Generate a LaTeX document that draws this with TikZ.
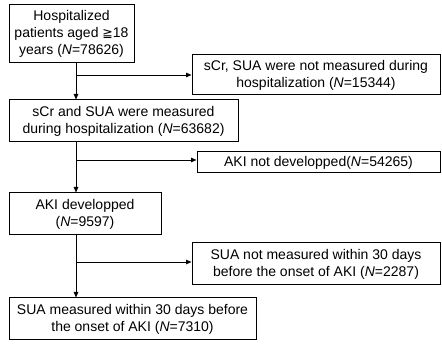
\documentclass[tikz,border=0pt]{standalone}
\usepackage{fontspec}
\setmainfont{Liberation Sans}
\newfontfamily\symfont{DejaVu Sans}
\usetikzlibrary{arrows.meta}
\tikzset{
  box/.style={draw=black, line width=1pt, fill=white, align=center, inner sep=0pt,
    font=\fontsize{14}{17}\selectfont},
  arr/.style={draw=black, line width=0.9pt, -{Triangle[length=5.5pt,width=4.5pt]}},
  ln/.style={draw=black, line width=0.9pt}
}
\begin{document}
\begin{tikzpicture}[x=1pt,y=-1pt]
\useasboundingbox (0,0) rectangle (442,344);
\node[box, minimum width=125pt, minimum height=58pt] (b1) at (71.5,34)
  {Hospitalized\\patients aged {\symfont\fontsize{12.5}{14}\selectfont ≧}18\\years (\textit{N}=78626)};
\node[box, minimum width=229pt, minimum height=42pt] (b2) at (123.5,121)
  {sCr and SUA were measured\\during hospitalization (\textit{N}=63682)};
\node[box, minimum width=248pt, minimum height=40pt] (b3) at (316,75)
  {sCr, SUA were not measured during\\hospitalization (\textit{N}=15344)};
\node[box, minimum width=152pt, minimum height=42pt] (b4) at (85,214)
  {AKI developped\\(\textit{N}=9597)};
\node[box, minimum width=243pt, minimum height=21pt] (b5) at (318.5,162.5)
  {AKI not developped(\textit{N}=54265)};
\node[box, minimum width=248pt, minimum height=42pt] (b6) at (316,264)
  {SUA not measured within 30 days\\before the onset of AKI (\textit{N}=2287)};
\node[box, minimum width=247pt, minimum height=42pt] (b7) at (132.5,319)
  {SUA measured within 30 days before\\the onset of AKI (\textit{N}=7310)};
\coordinate (spine) at (76,0);
\coordinate (j1) at (76,75);
\coordinate (j2) at (76,160);
\coordinate (j3) at (76,262);
\draw[arr] (b1.south -| spine) -- (b2.north -| spine);
\draw[arr] (j1) -- (b3.west |- j1);
\draw[arr] (b2.south -| spine) -- (b4.north -| spine);
\draw[arr] (j2) -- (b5.west |- j2);
\draw[arr] (b4.south -| spine) -- (b7.north -| spine);
\draw[arr] (j3) -- (b6.west |- j3);
\end{tikzpicture}
\end{document}
